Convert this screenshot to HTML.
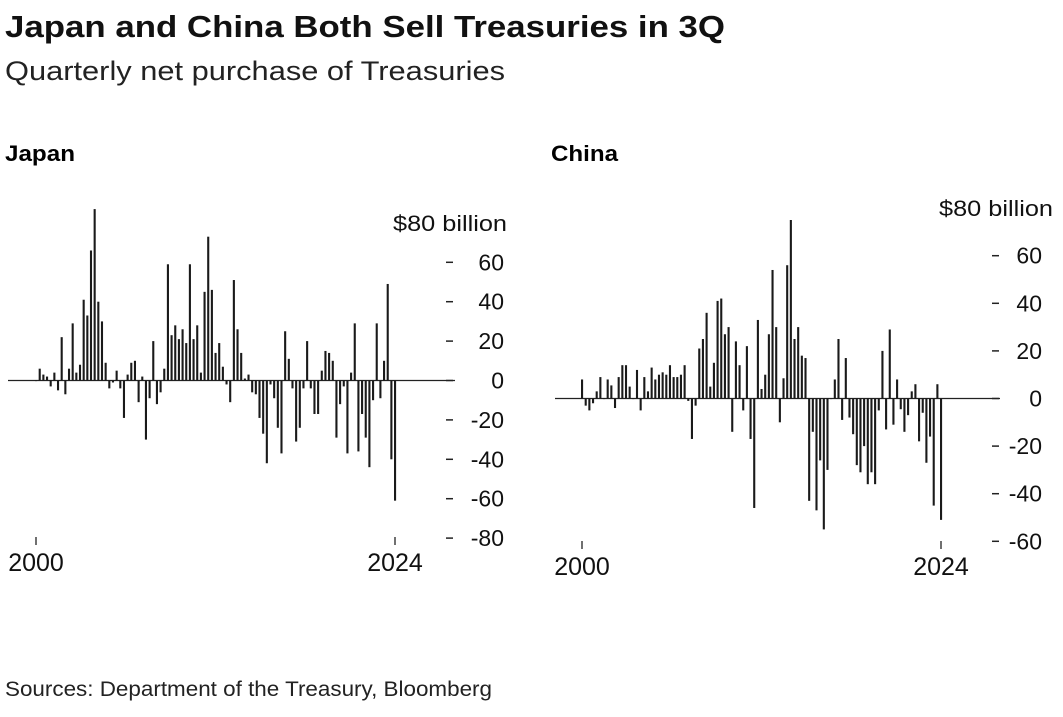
<!DOCTYPE html>
<html><head><meta charset="utf-8">
<style>
html,body{margin:0;padding:0;background:#fff;}
body{width:1063px;height:712px;overflow:hidden;font-family:"Liberation Sans",Arial,sans-serif;color:#111;}
</style></head>
<body>
<svg id="chart" width="1063" height="712" xmlns="http://www.w3.org/2000/svg" font-family="Liberation Sans, Arial, sans-serif">
<text x="5" y="37" font-size="31" font-weight="bold" fill="#111" textLength="720" lengthAdjust="spacingAndGlyphs">Japan and China Both Sell Treasuries in 3Q</text>
<text x="5" y="80" font-size="27" fill="#222" textLength="500" lengthAdjust="spacingAndGlyphs">Quarterly net purchase of Treasuries</text>
<text x="5" y="161" font-size="22" font-weight="bold" textLength="70" lengthAdjust="spacingAndGlyphs">Japan</text>
<text x="551" y="161" font-size="22" font-weight="bold" textLength="67" lengthAdjust="spacingAndGlyphs">China</text>
<text x="5" y="696" font-size="21" fill="#222" textLength="487" lengthAdjust="spacingAndGlyphs">Sources: Department of the Treasury, Bloomberg</text>
<g id="japan"></g>
<g id="china"></g>
</svg>
<script>
const japanValues = [0,6,3,2,-3,4,-5,22,-7,6,29,4,8,41,33,66,87,40,30,9,-4,-1,5,-4,-19,3,9,10,-11,2,-30,-9,20,-12,-6,6,59,23,28,21,26,19,59,21,28,4,45,73,46,14,19,7,-2,-11,51,26,14,1,3,-6,-7,-19,-27,-42,-2,-9,-24,-37,25,11,-4,-31,-24,-4,20,-4,-17,-17,5,15,14,10,-29,-12,-3,-37,4,29,-36,-17,-29,-44,-10,29,-9,10,49,-40,-61];
const chinaValues = [8,-3,-5,-2,3,9,0,8,5.5,-4,9,14,14,5,0,12,-5,9,3,13,8,10,11,10,14,9,9,10,14,-1,-17,-3,21,25,36,5,15,41,42,27,30,-14,24,14,-5,22,-17,-46,33,4,10,27,54,30,-10,8.5,56,75,25,30,18,17,-43,-14,-47,-26,-55,-30,0,8,25,-9,17,-8,-15,-28,-31,-20,-36,-31,-36,-5,20,-13,29,-11,8,-4.5,-14,-7,3,6,-18,-6,-27,-16,-45,6,-51];
const japanTicks = [60,40,20,0,-20,-40,-60,-80];
const chinaTicks = [60,40,20,0,-20,-40,-60];
const yearLabels = ["2000","2024"];

function makePanel(gId, vals, ticks, cfg){
  const g = document.getElementById(gId);
  const NS = "http://www.w3.org/2000/svg";
  const y = v => cfg.zeroY - v*cfg.pxPerUnit;
  const x = i => cfg.x0 + i*(cfg.x1-cfg.x0)/(vals.length-1);
  const zl = document.createElementNS(NS,"line");
  
  
  zl.setAttribute("x1",cfg.lineX0);zl.setAttribute("x2",cfg.lineX1);
  zl.setAttribute("y1",y(0));zl.setAttribute("y2",y(0));
  zl.setAttribute("stroke","#222");zl.setAttribute("stroke-width","1.3");
  g.appendChild(zl);
  vals.forEach((v,i)=>{
    const r = document.createElementNS(NS,"rect");
    
    
    const top = Math.min(y(v),y(0));
    r.setAttribute("x",x(i)-1);r.setAttribute("width",2.1);
    r.setAttribute("y",top);r.setAttribute("height",Math.max(Math.abs(y(v)-y(0)),0.6));
    r.setAttribute("fill","#1a1a1a");
    g.appendChild(r);
  });
  const u = document.createElementNS(NS,"text");
  
  
  u.setAttribute("x",cfg.unitX);u.setAttribute("y",y(80)+8);
  u.setAttribute("font-size","22");u.setAttribute("fill","#111");
  u.setAttribute("textLength","114");u.setAttribute("lengthAdjust","spacingAndGlyphs");
  u.textContent="$80 billion";
  g.appendChild(u);
  ticks.forEach(t=>{
    const d = document.createElementNS(NS,"line");
    
    
    d.setAttribute("x1",cfg.dashX);d.setAttribute("x2",cfg.dashX+7);
    d.setAttribute("y1",y(t));d.setAttribute("y2",y(t));
    d.setAttribute("stroke","#222");d.setAttribute("stroke-width","1.5");
    g.appendChild(d);
    const tx = document.createElementNS(NS,"text");
    
    
    tx.setAttribute("x",cfg.numX);tx.setAttribute("y",y(t)+8);
    tx.setAttribute("text-anchor","end");
    tx.setAttribute("font-size","23");tx.setAttribute("fill","#111");
    tx.textContent = t<0 ? "-"+Math.abs(t) : String(t);
    g.appendChild(tx);
  });
  [0, vals.length-1].forEach((qi,k)=>{
    const xx = x(qi);
    const tl = document.createElementNS(NS,"line");
    
    
    tl.setAttribute("x1",xx);tl.setAttribute("x2",xx);
    tl.setAttribute("y1",cfg.tickY);tl.setAttribute("y2",cfg.tickY+8);
    tl.setAttribute("stroke","#222");tl.setAttribute("stroke-width","1.3");
    g.appendChild(tl);
    const lt = document.createElementNS(NS,"text");
    
    
    lt.setAttribute("x",xx);lt.setAttribute("y",cfg.tickY+34);
    lt.setAttribute("text-anchor","middle");
    lt.setAttribute("font-size","25");lt.setAttribute("fill","#111");
    lt.textContent = yearLabels[k];
    g.appendChild(lt);
  });
}
makePanel("japan", japanValues, japanTicks, {zeroY:380.5, pxPerUnit:1.97, x0:36, x1:395, lineX0:8, lineX1:455, unitX:393, dashX:446, numX:504, tickY:537});
makePanel("china", chinaValues, chinaTicks, {zeroY:398.5, pxPerUnit:2.38, x0:582, x1:941, lineX0:555, lineX1:1000, unitX:939, dashX:992, numX:1042, tickY:541});
</script>
</body></html>
